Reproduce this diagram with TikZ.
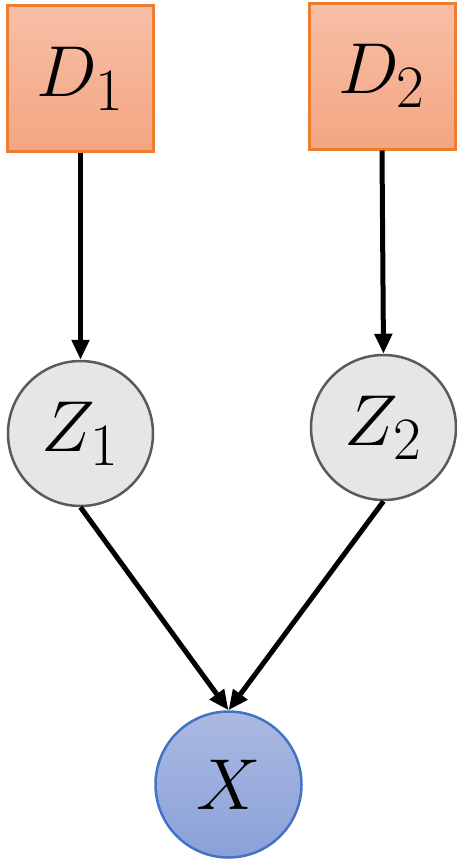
\documentclass[tikz,border=0pt]{standalone}
\usepackage{graphicx}
\usetikzlibrary{arrows.meta}
\definecolor{dborder}{HTML}{ED7D31}
\definecolor{dtop}{HTML}{F7BFA6}
\definecolor{dbot}{HTML}{F4A582}
\definecolor{zfill}{HTML}{E6E6E6}
\definecolor{zborder}{HTML}{5A5A5A}
\definecolor{xtop}{HTML}{AAB9E1}
\definecolor{xbot}{HTML}{8AA1D9}
\definecolor{xborder}{HTML}{4472C4}
\newcommand{\bigmath}[1]{\scalebox{2.9}{\Huge$#1$}}
\tikzset{
  dbox/.style={draw=dborder, line width=3pt, top color=dtop, bottom color=dbot,
    minimum width=146pt, minimum height=146pt, inner sep=0pt},
  zcirc/.style={circle, draw=zborder, line width=2.5pt, fill=zfill,
    minimum size=145pt, inner sep=0pt},
  xcirc/.style={circle, draw=xborder, line width=2.5pt, top color=xtop, bottom color=xbot,
    minimum size=146pt, inner sep=0pt},
  conn/.style={line width=5pt, -{Triangle[length=20pt,width=17pt]}}
}
\begin{document}
\begin{tikzpicture}[x=1pt,y=-1pt]
\useasboundingbox (0,0) rectangle (457,860);
\node[dbox] (D1) at (80.5,78.5) {\bigmath{D_1}};
\node[dbox] (D2) at (382,76) {\bigmath{D_2}};
\node[zcirc] (Z1) at (80.5,433.5) {\bigmath{Z_1}};
\node[zcirc] (Z2) at (383.5,427.5) {\bigmath{Z_2}};
\node[xcirc] (X) at (228.5,784.5) {\bigmath{X}};
\draw[conn] (D1.south) -- (Z1.north);
\draw[conn] (D2.south) -- (Z2.north);
\draw[conn] (Z1.south) -- (X.north);
\draw[conn] (Z2.south) -- (X.north);
\end{tikzpicture}
\end{document}
